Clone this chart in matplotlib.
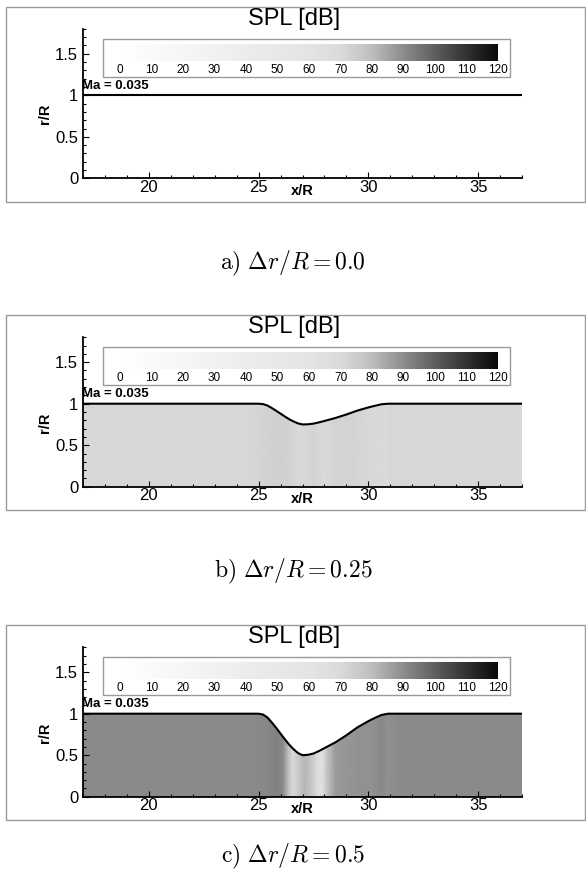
import numpy as np
import matplotlib
matplotlib.use("Agg")
import matplotlib.pyplot as plt
from matplotlib.colors import LinearSegmentedColormap, Normalize
from matplotlib.patches import Rectangle, Polygon
from matplotlib.cm import ScalarMappable
from matplotlib.ticker import MultipleLocator

plt.rcParams['font.family'] = ['Liberation Sans', 'DejaVu Sans']
plt.rcParams['mathtext.fontset'] = 'cm'

W, H = 586, 875

# SPL grey scale of the legend (dB -> grey level 0..255)
spl_levels = [0, 10, 20, 30, 40, 50, 60, 70, 80, 90, 100, 110, 120]
grey_levels = [255, 250, 246, 241, 236, 232, 228, 218, 190, 140, 95, 50, 10]

# wall contour r/R over x/R
wall_x = [17, 25.0, 25.2, 25.4, 25.6, 25.8, 26.0, 26.2, 26.4, 26.6, 26.8, 27.0,
          27.25, 27.5, 27.75, 28.0, 28.5, 29.0, 29.5, 30.0, 30.3, 30.6, 30.9, 37]
wall_r_a = [1, 1, 1, 1, 1, 1, 1, 1, 1, 1, 1, 1,
            1, 1, 1, 1, 1, 1, 1, 1, 1, 1, 1, 1]
wall_r_b = [1, 1, 0.995, 0.978, 0.948, 0.915, 0.88, 0.845, 0.812, 0.785, 0.762, 0.75,
            0.752, 0.76, 0.775, 0.792, 0.828, 0.87, 0.917, 0.955, 0.975, 0.993, 1, 1]
wall_r_c = [1, 1, 0.99, 0.955, 0.895, 0.83, 0.76, 0.69, 0.625, 0.57, 0.525, 0.5,
            0.505, 0.52, 0.55, 0.585, 0.655, 0.74, 0.835, 0.91, 0.95, 0.985, 1, 1]

# SPL [dB] along the duct
spl_x_b = [17, 24.8, 25.3, 25.9, 26.4, 26.8, 27.2, 27.5, 28.0, 28.5, 29.2, 29.8, 30.8, 31.0, 37]
spl_b = [71, 71, 72.5, 74, 73, 70, 71, 72.5, 69.5, 72, 72.5, 71, 69.5, 71, 71]
spl_x_c = [17, 24.8, 25.3, 25.8, 26.1, 26.35, 26.55, 26.8, 27.1, 27.4, 27.7, 27.9,
           28.15, 28.5, 29.0, 29.6, 30.2, 30.6, 30.9, 31.3, 37]
spl_c = [90, 90, 90.5, 92, 90.5, 80, 70, 75, 82, 77, 66, 64,
         79, 87, 88, 89, 89, 90.5, 89, 90, 90]

captions = [r"$\mathrm{a)}\ \Delta r/R = 0.0$",
            r"$\mathrm{b)}\ \Delta r/R = 0.25$",
            r"$\mathrm{c)}\ \Delta r/R = 0.5$"]
walls = [wall_r_a, wall_r_b, wall_r_c]
fields = [None, (spl_x_b, spl_b), (spl_x_c, spl_c)]

offsets = [0, 308.4, 618.4]
caption_y = [263, 571, 856]

cmap = LinearSegmentedColormap.from_list(
    "spl", [(v / 120.0, (g / 255.0,) * 3) for v, g in zip(spl_levels, grey_levels)])
norm = Normalize(0, 120)


def fx(px):
    return px / W


def fy(py):
    return 1 - py / H


fig = plt.figure(figsize=(W / 100, H / 100), dpi=100)

for i in range(3):
    off = offsets[i]
    # grey frame round the panel
    fig.add_artist(Rectangle((fx(6), fy(202 + off)), fx(585) - fx(6), 195 / H,
                             transform=fig.transFigure, fill=False,
                             ec='#9a9a9a', lw=1.0, zorder=-1))

    ax = fig.add_axes([fx(83), fy(178.3 + off), fx(522) - fx(83), (178.3 - 28.9) / H])
    ax.set_xlim(17, 37)
    ax.set_ylim(0, 1.8)

    if fields[i] is not None:
        sx, sv = fields[i]
        X, R = np.meshgrid(sx, [0, 1.05])
        Z = np.vstack([sv, sv])
        mesh = ax.pcolormesh(X, R, Z, cmap=cmap, norm=norm, shading='gouraud')
        verts = [(wall_x[0], 0)] + list(zip(wall_x, walls[i])) + [(wall_x[-1], 0)]
        clip = Polygon(verts, closed=True, transform=ax.transData, fc='none', ec='none')
        mesh.set_clip_path(clip)

    ax.plot(wall_x, walls[i], c='k', lw=1.5, zorder=3)

    for s in ['top', 'right']:
        ax.spines[s].set_visible(False)
    for s in ['left', 'bottom']:
        ax.spines[s].set_linewidth(1.3)
        ax.spines[s].set_zorder(4)
    ax.set_xticks([20, 25, 30, 35])
    ax.set_yticks([0, 0.5, 1, 1.5], ['0', '0.5', '1', '1.5'])
    ax.xaxis.set_minor_locator(MultipleLocator(1))
    ax.yaxis.set_minor_locator(MultipleLocator(0.1))
    ax.tick_params(which='both', direction='in', width=0.8)
    ax.tick_params(which='major', length=4)
    ax.tick_params(which='minor', length=2)
    ax.tick_params(axis='x', labelsize=12, pad=1)
    ax.tick_params(axis='y', labelsize=12, pad=3.5)

    # legend box with the grey scale
    fig.add_artist(Rectangle((fx(102.7), fy(77 + off)), fx(510) - fx(102.7), (77 - 39) / H,
                             transform=fig.transFigure, fc='white', ec='#9a9a9a',
                             lw=1.0, zorder=1))
    cax = fig.add_axes([fx(120), fy(61 + off), fx(498) - fx(120), (61 - 44) / H], zorder=2)
    cb = fig.colorbar(ScalarMappable(norm=norm, cmap=cmap), cax=cax,
                      orientation='horizontal', ticks=range(0, 121, 10))
    cb.outline.set_visible(False)
    cax.tick_params(length=0, labelsize=8.5, pad=2)

    fig.text(fx(294), fy(19 + off), "SPL [dB]", ha='center', va='center', fontsize=17)
    fig.text(fx(82), fy(86 + off), "Ma = 0.035", ha='left', va='center',
             fontsize=9.5, fontweight='bold', zorder=5)
    fig.text(fx(45), fy(114 + off), "r/R", ha='center', va='center', rotation=90,
             fontsize=10.5, fontweight='bold')
    fig.text(fx(302.5), fy(191 + off), "x/R", ha='center', va='center',
             fontsize=10.5, fontweight='bold')

    fig.text(fx(293), fy(caption_y[i]), captions[i], ha='center', va='center', fontsize=17)

fig.savefig("out.png", dpi=100)
